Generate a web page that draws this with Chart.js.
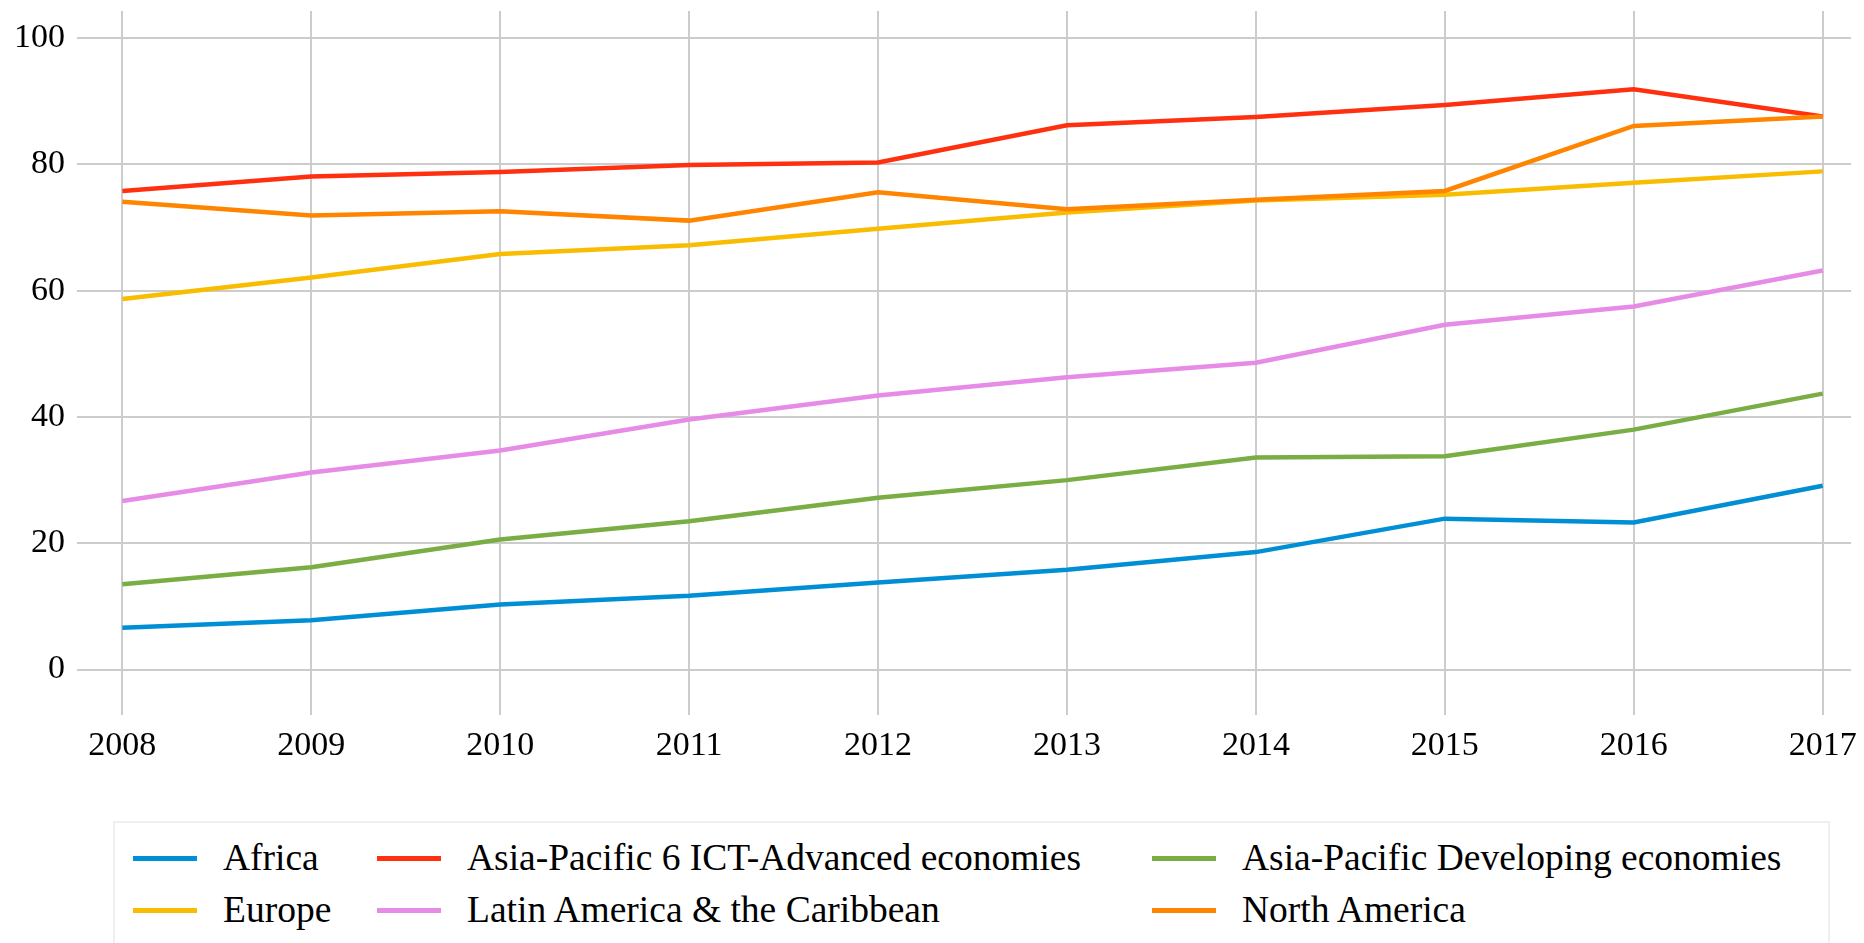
<!DOCTYPE html>
<html>
<head>
<meta charset="utf-8">
<script src="https://cdn.jsdelivr.net/npm/chart.js@4/dist/chart.umd.min.js"></script>
<style>
  html, body { margin:0; padding:0; background:#ffffff; overflow:hidden; }
  #wrap { position:relative; width:1864px; height:943px; }
  #c { position:absolute; left:0; top:0; }
  #legend { position:absolute; left:113px; top:821px; width:1717px; height:200px;
            border:2px solid #efefef; background:#ffffff; box-sizing:border-box; }
  .item { position:absolute; height:0; }
  .swatch { position:absolute; left:0; width:64px; height:5px; top:-2.5px; }
  .lbl { position:absolute; white-space:nowrap; font-family:"Liberation Serif", serif;
         font-size:37.5px; line-height:37.5px; color:#000; top:-19px; }
</style>
</head>
<body>
<div id="wrap">
  <canvas id="c" width="1864" height="943"></canvas>
  <div id="legend"></div>
</div>
<script>
const years = [2008, 2009, 2010, 2011, 2012, 2013, 2014, 2015, 2016, 2017];
const yTicks = [0, 20, 40, 60, 80, 100];

const seriesNames = [
  "Africa",
  "Europe",
  "Asia-Pacific 6 ICT-Advanced economies",
  "Latin America & the Caribbean",
  "Asia-Pacific Developing economies",
  "North America"
];
const africa  = [6.6, 7.8, 10.3, 11.7, 13.8, 15.8, 18.6, 23.9, 23.3, 29.1];
const europe  = [58.7, 62.1, 65.8, 67.2, 69.8, 72.4, 74.3, 75.2, 77.1, 78.9];
const apAdv   = [75.8, 78.1, 78.8, 79.9, 80.3, 86.2, 87.5, 89.4, 91.9, 87.6];
const latAm   = [26.7, 31.2, 34.7, 39.6, 43.4, 46.3, 48.6, 54.6, 57.5, 63.2];
const apDev   = [13.5, 16.2, 20.6, 23.5, 27.2, 30.0, 33.6, 33.8, 38.0, 43.7];
const northAm = [74.1, 71.9, 72.6, 71.1, 75.6, 72.9, 74.4, 75.8, 86.1, 87.6];
const seriesValues = [africa, europe, apAdv, latAm, apDev, northAm];
const seriesColors = ["#008fd5", "#f8bc00", "#ff3010", "#e68be6", "#7aad44", "#ff8400"];

const FONT = "'Liberation Serif', serif";

const datasets = seriesNames.map((name, i) => ({
  label: name,
  data: years.map((y, j) => ({ x: y, y: seriesValues[i][j] })),
  borderColor: seriesColors[i],
  backgroundColor: seriesColors[i],
  borderWidth: 4.5,
  pointRadius: 0,
  tension: 0,
  fill: false,
  order: seriesNames.length - i
}));

new Chart(document.getElementById('c'), {
  type: 'line',
  data: { datasets },
  options: {
    responsive: false,
    animation: false,
    devicePixelRatio: 1,
    layout: { padding: { top: 11, right: 13, left: 0, bottom: 0 } },
    plugins: { legend: { display: false }, tooltip: { enabled: false } },
    scales: {
      x: {
        type: 'linear',
        min: 2007.76,
        max: 2017.15,
        afterBuildTicks: s => { s.ticks = years.map(v => ({ value: v })); },
        afterFit: s => { s.height = 228; s.paddingLeft = 0; s.paddingRight = 0; },
        ticks: {
          font: { family: FONT, size: 34 },
          color: '#000',
          padding: 11,
          maxRotation: 0,
          autoSkip: false,
          callback: v => String(v)
        },
        grid: { color: '#cccccc', lineWidth: 2, drawTicks: false },
        border: { display: false }
      },
      y: {
        type: 'linear',
        min: -7.2,
        max: 104.3,
        afterBuildTicks: s => { s.ticks = yTicks.map(v => ({ value: v })); },
        afterFit: s => { s.width = 77; s.paddingTop = 0; s.paddingBottom = 0; },
        ticks: {
          font: { family: FONT, size: 34 },
          color: '#000',
          padding: 12,
          callback: v => String(v)
        },
        grid: { color: '#cccccc', lineWidth: 2, drawTicks: false },
        border: { display: false }
      }
    }
  }
});

// Legend (matplotlib-style, 3 columns, column-major fill)
const legend = document.getElementById('legend');
const colX = [133, 377, 1152];
const rowY = [858, 910];
const textGap = 90;
seriesNames.forEach((name, i) => {
  const col = Math.floor(i / 2), row = i % 2;
  const item = document.createElement('div');
  item.className = 'item';
  item.style.left = (colX[col] - 115) + 'px';
  item.style.top = (rowY[row] - 823) + 'px';
  const sw = document.createElement('div');
  sw.className = 'swatch';
  sw.style.background = seriesColors[i];
  const lb = document.createElement('div');
  lb.className = 'lbl';
  lb.style.left = textGap + 'px';
  lb.textContent = name;
  item.appendChild(sw);
  item.appendChild(lb);
  legend.appendChild(item);
});
</script>
</body>
</html>
